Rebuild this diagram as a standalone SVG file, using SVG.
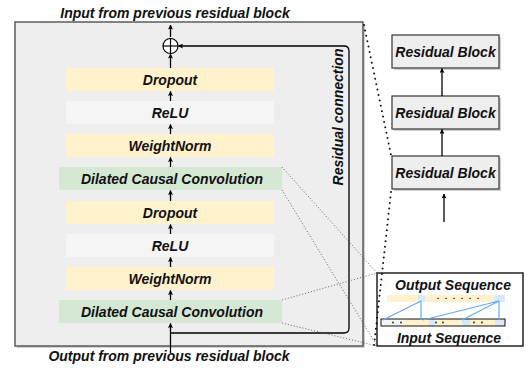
<svg xmlns="http://www.w3.org/2000/svg" width="527" height="370" viewBox="0 0 527 370">
  <defs>
    <marker id="arrow" viewBox="0 0 10 10" refX="9" refY="5" markerWidth="5" markerHeight="5" orient="auto-start-reverse" markerUnits="userSpaceOnUse">
      <path d="M0,0 L10,5 L0,10 L2,5 z" fill="#000"/>
    </marker>
    <style>
      .lbl { font-family: "Liberation Sans", Arial, sans-serif; font-weight: bold; font-style: italic; font-size: 14px; fill: #111; text-anchor: middle; }
      .yellow { fill: #fff2cc; }
      .grey { fill: #f5f5f5; }
      .green { fill: #d5e8d4; }
      .block { fill: #eeeeee; stroke: #444; stroke-width: 1.3; }
      .shadow { fill: #9a9a9a; opacity: 0.45; }
      .flow { stroke: #000; stroke-width: 1.3; fill: none; marker-end: url(#arrow); }
      .bigdots { stroke: #111; stroke-width: 2; stroke-dasharray: 0 5.5; stroke-linecap: round; fill: none; }
      .finedots { stroke: #555; stroke-width: 0.9; stroke-dasharray: 1 2; fill: none; }
      .tap { stroke: #66aaf0; stroke-width: 1.2; fill: none; }
    </style>
  </defs>

  <!-- residual block container -->
  <g id="residual-block-detail">
    <rect x="17" y="24" width="348" height="324" class="shadow"/>
    <rect x="15" y="22" width="348" height="324" class="block"/>
  </g>

  <text class="lbl" x="175" y="18">Input from previous residual block</text>
  <text class="lbl" x="169" y="361">Output from previous residual block</text>

  <g id="sum">
    <circle cx="170.5" cy="46" r="7.5" fill="#fff" stroke="#000" stroke-width="1.2"/>
    <line x1="163" y1="46" x2="178" y2="46" stroke="#000" stroke-width="1.2"/>
    <line x1="170.5" y1="38.5" x2="170.5" y2="53.5" stroke="#000" stroke-width="1.2"/>
  </g>

  <g id="dropout-2">
    <rect x="66" y="68" width="208" height="23" class="yellow"/>
    <text class="lbl" x="170" y="84.5">Dropout</text>
  </g>
  <g id="relu-2">
    <rect x="66" y="101" width="208" height="23" class="grey"/>
    <text class="lbl" x="170" y="117.5">ReLU</text>
  </g>
  <g id="weightnorm-2">
    <rect x="66" y="134" width="208" height="23" class="yellow"/>
    <text class="lbl" x="170" y="150.5">WeightNorm</text>
  </g>
  <g id="conv-2">
    <rect x="59" y="167" width="223" height="23" class="green"/>
    <text class="lbl" x="172" y="183.5">Dilated Causal Convolution</text>
  </g>
  <g id="dropout-1">
    <rect x="66" y="201" width="208" height="23" class="yellow"/>
    <text class="lbl" x="170" y="217.5">Dropout</text>
  </g>
  <g id="relu-1">
    <rect x="66" y="234" width="208" height="23" class="grey"/>
    <text class="lbl" x="170" y="250.5">ReLU</text>
  </g>
  <g id="weightnorm-1">
    <rect x="66" y="267" width="208" height="23" class="yellow"/>
    <text class="lbl" x="170" y="283.5">WeightNorm</text>
  </g>
  <g id="conv-1">
    <rect x="59" y="300" width="223" height="23" class="green"/>
    <text class="lbl" x="172" y="316.5">Dilated Causal Convolution</text>
  </g>

  <text class="lbl" x="0" y="0" transform="translate(343,117) rotate(-90)">Residual connection</text>

  <!-- stacked residual blocks -->
  <g id="stack-block-3">
    <rect x="394" y="37" width="107" height="33" class="shadow"/>
    <rect x="392" y="35" width="107" height="33" class="block"/>
    <text class="lbl" x="445.5" y="57">Residual Block</text>
  </g>
  <g id="stack-block-2">
    <rect x="394" y="98" width="107" height="33" class="shadow"/>
    <rect x="392" y="96" width="107" height="33" class="block"/>
    <text class="lbl" x="445.5" y="118">Residual Block</text>
  </g>
  <g id="stack-block-1">
    <rect x="394" y="158" width="107" height="33" class="shadow"/>
    <rect x="392" y="156" width="107" height="33" class="block"/>
    <text class="lbl" x="445.5" y="178">Residual Block</text>
  </g>

  <!-- dilated convolution inset -->
  <g id="conv-inset">
    <rect x="377" y="273" width="146" height="73" fill="#fff" stroke="#222" stroke-width="1.5"/>
    <text class="lbl" x="453" y="290">Output Sequence</text>
    <text class="lbl" x="449" y="343">Input Sequence</text>
    <!-- output row -->
    <rect x="387" y="295" width="118" height="7" fill="#fff2cc"/>
    <rect x="418" y="295" width="7" height="7" fill="#dae8fc"/>
    <rect x="494" y="295" width="11" height="7" fill="#dae8fc"/>
    <g fill="#222">
      <circle cx="438" cy="298.5" r="0.8"/><circle cx="446" cy="298.5" r="0.8"/>
      <circle cx="454" cy="298.5" r="0.8"/><circle cx="462" cy="298.5" r="0.8"/>
      <circle cx="470" cy="298.5" r="0.8"/><circle cx="478" cy="298.5" r="0.8"/>
    </g>
    <!-- input row -->
    <rect x="381" y="319" width="124" height="7" fill="#fff2cc"/>
    <rect x="381" y="319" width="22" height="7" fill="#f5f5f5"/>
    <rect x="429" y="319" width="6" height="7" fill="#dae8fc"/>
    <rect x="462" y="319" width="8" height="7" fill="#dae8fc"/>
    <rect x="495" y="319" width="10" height="7" fill="#dae8fc"/>
    <rect x="381" y="319" width="124" height="7" fill="none" stroke="#111" stroke-width="1"/>
    <g fill="#222">
      <circle cx="393" cy="322.5" r="0.9"/><circle cx="401" cy="322.5" r="0.9"/>
      <circle cx="436" cy="322.5" r="0.9"/><circle cx="443" cy="322.5" r="0.9"/>
      <circle cx="474" cy="322.5" r="0.9"/><circle cx="482" cy="322.5" r="0.9"/>
    </g>
    <!-- receptive field taps -->
    <path class="tap" d="M421,301 L383,320 M421,301 V320 M499,301 L423,320 M499,301 L462,320 M499,301 V320"/>
  </g>

  <g id="connectors">
    <line class="flow" x1="170.5" y1="37" x2="170.5" y2="25"/>
    <line class="flow" x1="170.5" y1="68" x2="170.5" y2="54"/>
    <line class="flow" x1="170.5" y1="101" x2="170.5" y2="91.5"/>
    <line class="flow" x1="170.5" y1="134" x2="170.5" y2="124.5"/>
    <line class="flow" x1="170.5" y1="167" x2="170.5" y2="157.5"/>
    <line class="flow" x1="170.5" y1="201" x2="170.5" y2="190.5"/>
    <line class="flow" x1="170.5" y1="234" x2="170.5" y2="224.5"/>
    <line class="flow" x1="170.5" y1="267" x2="170.5" y2="257.5"/>
    <line class="flow" x1="170.5" y1="300" x2="170.5" y2="290.5"/>
    <line class="flow" x1="170.5" y1="353" x2="170.5" y2="323.5"/>
    <path class="flow" d="M170.5,333 H344 Q349,333 349,328 V51 Q349,46 344,46 H178.5"/>
    <line class="flow" x1="444" y1="222" x2="444" y2="194"/>
    <line class="flow" x1="442" y1="156" x2="442" y2="129.5"/>
    <line class="flow" x1="442" y1="96" x2="442" y2="68.5"/>
    <!-- zoom guides -->
    <line class="bigdots" x1="364" y1="25" x2="391" y2="155"/>
    <line class="bigdots" x1="391" y1="192" x2="374" y2="346"/>
    <line class="finedots" x1="282" y1="167" x2="377" y2="273"/>
    <line class="finedots" x1="282" y1="190" x2="377" y2="346"/>
    <line class="finedots" x1="282" y1="300" x2="377" y2="273"/>
    <line class="finedots" x1="282" y1="323" x2="377" y2="346"/>
  </g>
</svg>
